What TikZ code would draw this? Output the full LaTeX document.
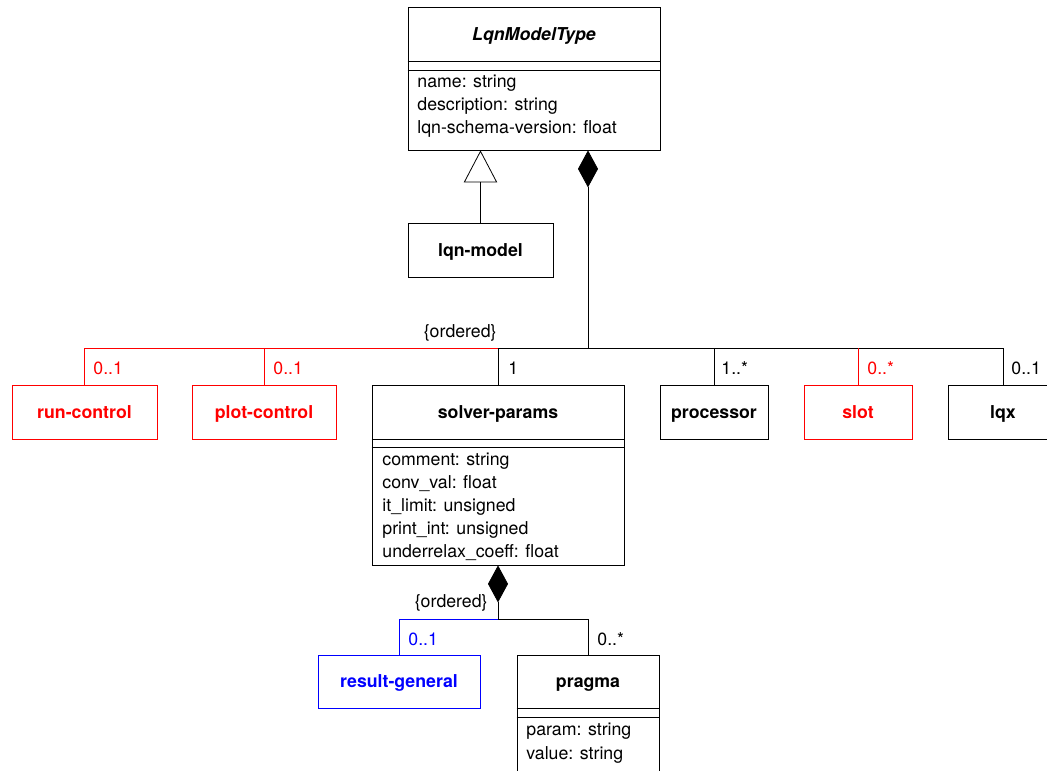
\documentclass[tikz,border=0pt]{standalone}
\usepackage{fontspec}
\setmainfont{TeX Gyre Heros}
\usetikzlibrary{positioning,arrows.meta}

\definecolor{umlred}{RGB}{255,0,0}
\definecolor{umlblue}{RGB}{0,0,255}
\newcommand{\px}{0.75pt}
\newcommand{\umlfont}{\fontsize{13.3}{16}\selectfont}

\tikzset{
  cls/.style={draw, inner sep=0pt, text height=9.5pt, text depth=0pt, font=\umlfont\bfseries},
  title/.style={inner sep=0pt, text height=9.5pt, text depth=0pt, font=\umlfont\bfseries},
  attr/.style={anchor=base west, inner sep=0pt},
  mult/.style={anchor=base west, inner sep=0pt},
  gen/.style={-{Triangle[open,length=24pt,width=25pt]}},
  comp/.style={{Diamond[length=27.75pt,width=15pt]}-},
}

\begin{document}
\begin{tikzpicture}[x=\px, y=-\px, line width=0.6pt, font=\umlfont]
  \useasboundingbox (0,0) rectangle (1047,771);

  % LqnModelType
  \node[draw, minimum width=252*\px, minimum height=143*\px] (model) at (534,78.5) {};
  \node[title, font=\umlfont\bfseries\itshape] (modeltitle) at (534,34) {LqnModelType};
  \draw (model.west |- 0,61) -- (model.east |- 0,61);
  \draw (model.west |- 0,70) -- (model.east |- 0,70);
  \foreach \t [count=\i] in {name: string, description: string, lqn-schema-version: float} {
  \node[attr] (modelattr\i) at (417,64+23*\i) {\t};
  }

  \node[cls, minimum width=145*\px, minimum height=54*\px] (lqnmodel) at (480.5,250) {lqn-model};
  \draw[gen] (lqnmodel.north) -- (lqnmodel.north |- model.south);

  % first row
  \node[cls, umlred, minimum width=145*\px, minimum height=54*\px] (runctl) at (84.5,412) {run-control};
  \node[cls, umlred, minimum width=144*\px, minimum height=54*\px] (plotctl) at (264,412) {plot-control};
  \node[cls, minimum width=108*\px, minimum height=54*\px] (processor) at (714,412) {processor};
  \node[cls, umlred, minimum width=108*\px, minimum height=54*\px] (slot) at (858,412) {slot};
  \node[cls, minimum width=110*\px, minimum height=54*\px] (lqx) at (1003,412) {lqx};

  % solver-params
  \node[draw, minimum width=252*\px, minimum height=180*\px] (solver) at (498,475) {};
  \node[title] (solvertitle) at (498,412) {solver-params};
  \draw (solver.west |- 0,439) -- (solver.east |- 0,439);
  \draw (solver.west |- 0,447) -- (solver.east |- 0,447);
  \foreach \t [count=\i] in {comment: string, conv\_val: float, it\_limit: unsigned, print\_int: unsigned, underrelax\_coeff: float} {
  \node[attr] (solverattr\i) at (382,442+23*\i) {\t};
  }

  % composition to first row
  \coordinate (bus) at (588,348);
  \draw[comp] (model.south -| bus) -- (bus);
  \draw[umlred] (runctl.north) |- (solver.north |- bus);
  \draw[umlred] (plotctl.north) -- (plotctl.north |- bus);
  \draw (solver.north) -- (solver.north |- bus) -- (lqx.north |- bus) -- (lqx.north);
  \draw (processor.north) -- (processor.north |- bus);
  \draw[umlred] (slot.north) -- (slot.north |- bus);

  \node[anchor=east, inner sep=0pt] (ordered1) at (497,333) {\{ordered\}};
  \node[mult, umlred] (multrun) at (93,374) {0..1};
  \node[mult, umlred] (multplot) at (273,374) {0..1};
  \node[mult] (multsolver) at (508,374) {1};
  \node[mult] (multproc) at (721,374) {1..*};
  \node[mult, umlred] (multslot) at (867,374) {0..*};
  \node[mult] (multlqx) at (1011,374) {0..1};

  % second row
  \node[cls, umlblue, minimum width=162*\px, minimum height=53*\px] (resgen) at (399,681.5) {result-general};
  \node[draw, minimum width=142*\px, minimum height=135*\px] (pragma) at (588,722.5) {};
  \node[title] (pragmatitle) at (588,681.5) {pragma};
  \draw (pragma.west |- 0,708) -- (pragma.east |- 0,708);
  \draw (pragma.west |- 0,717) -- (pragma.east |- 0,717);
  \foreach \t [count=\i] in {param: string, value: string} {
  \node[attr] (pragmaattr\i) at (526,711+24*\i) {\t};
  }

  \coordinate (bus2) at (498,619);
  \draw[comp] (solver.south) -- (bus2);
  \draw[umlblue] (resgen.north) |- (bus2);
  \draw (pragma.north) |- (bus2);

  \node[anchor=east, inner sep=0pt] (ordered2) at (488,603) {\{ordered\}};
  \node[mult, umlblue] (multres) at (408,645) {0..1};
  \node[mult] (multpragma) at (597,645) {0..*};
\end{tikzpicture}
\end{document}
